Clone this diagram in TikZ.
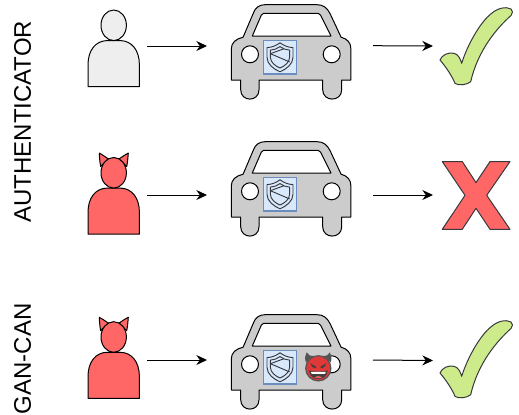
\documentclass[tikz,border=0pt]{standalone}
\usepackage{fontspec}
\setmainfont{Liberation Sans}
\usetikzlibrary{arrows.meta}

\definecolor{carfill}{RGB}{204,204,204}
\definecolor{userfill}{RGB}{238,238,238}
\definecolor{devilred}{RGB}{255,102,102}
\definecolor{facered}{RGB}{222,56,56}
\definecolor{hornline}{RGB}{85,85,85}
\definecolor{okgreen}{RGB}{205,235,139}
\definecolor{iconline}{RGB}{54,57,61}
\definecolor{boxfill}{RGB}{218,232,252}
\definecolor{boxline}{RGB}{108,142,191}

\tikzset{
  outline/.style={draw=black,line width=0.75pt,line join=round},
  flow/.style={-{Stealth[length=8pt,width=7.5pt]},line width=0.75pt},
  sidelabel/.style={rotate=90,font=\fontsize{18}{20}\selectfont},
  shieldbox/.style={draw=boxline,fill=boxfill,line width=1pt,minimum size=25pt,inner sep=0pt},
  % head and shoulders
  pics/bust/.style={code={
    \draw [outline,fill=#1] (-25.7,76.7) -- (-25.7,55) .. controls (-25.7,40) and (-18,31) .. (-7,30.6) -- (7,30.6) .. controls (18,31) and (25.7,40) .. (25.7,55) -- (25.7,76.7) -- cycle ;
    \draw [outline,fill=#1] (0,15.3) ellipse (12.7 and 15.3) ;
  }},
  pics/horns/.style={code={
    \draw [outline,fill=devilred] (-13,9) .. controls (-14,4) and (-14.2,0) .. (-14.4,-4.4) .. controls (-11,-2.5) and (-8,-0.5) .. (-5.4,1.4) -- cycle ;
    \draw [outline,fill=devilred] (13,9) .. controls (14,4) and (14.2,0) .. (14.6,-4.4) .. controls (11,-2.5) and (8,-0.5) .. (5.4,1.4) -- cycle ;
  }},
  pics/carfront/.style={code={
    \draw [outline,fill=carfill] (-59.8,75.3) -- (-50.4,75.3) -- (-50.4,85) .. controls (-50.4,97.5) and (-32.1,97.5) .. (-32.1,85) -- (-32.1,75.3) -- (31.6,75.3) -- (31.6,85) .. controls (31.6,97.5) and (50.6,97.5) .. (50.6,85) -- (50.6,75.3) -- (59.8,75.3) -- (59.8,44) .. controls (59.8,38) and (56,34) .. (50,32.5) -- (39,9) .. controls (36,3) and (32,0) .. (26,0) -- (-26,0) .. controls (-32,0) and (-36,3) .. (-38,9) -- (-48,32.5) .. controls (-55,34) and (-59.8,38) .. (-59.8,44) -- cycle ;
    \draw [outline,fill=white] (-38.8,31.3) -- (-29.8,10.5) .. controls (-29.2,9.2) and (-28.5,8.6) .. (-27.5,8.6) -- (27,8.6) .. controls (28,8.6) and (28.8,9.2) .. (29.5,10.5) -- (39.9,31.3) -- cycle ;
    \draw [outline,fill=white] (-41.1,49.6) circle (8.5) ;
    \draw [outline,fill=white] (40.6,49.6) circle (8.5) ;
    \node [shieldbox] (-box) at (-11.1,52.6) {};
    % shield icon
    \begin{scope}[shift={(-11.1,52.6)},iconline,line width=0.7pt,line join=round]
      \draw (0,-14.5) .. controls (4,-11.5) and (8,-10) .. (13,-9.7) -- (13,0) .. controls (13,7) and (6,12) .. (0,14.5) .. controls (-6,12) and (-13,7) .. (-13,0) -- (-13,-9.7) .. controls (-8,-10) and (-4,-11.5) .. (0,-14.5) -- cycle ;
      \draw (0,-10.7) .. controls (3,-8.5) and (6,-7.4) .. (9.6,-7.2) -- (9.6,0) .. controls (9.6,5) and (4.5,8.9) .. (0,10.7) .. controls (-4.5,8.9) and (-9.6,5) .. (-9.6,0) -- (-9.6,-7.2) .. controls (-6,-7.4) and (-3,-8.5) .. (0,-10.7) -- cycle ;
      \draw (-9.6,-3.6) -- (4,-8.6) ;
      \draw (-9.6,-3.6) -- (9.6,4.6) ;
    \end{scope}
  }},
  pics/devilface/.style={code={
    \fill [hornline] (-12.5,-6) .. controls (-13.5,-10) and (-13.5,-13) .. (-11.6,-16) .. controls (-10.5,-13) and (-8,-12) .. (-3,-12.5) -- cycle ;
    \fill [hornline] (12.5,-6) .. controls (13.5,-10) and (13.5,-13) .. (11.6,-16) .. controls (10.5,-13) and (8,-12) .. (3,-12.5) -- cycle ;
    \draw [draw=hornline,fill=facered,line width=0.9pt] (0,0) circle (12.6) ;
    \fill [black!75] (-8,-5) -- (-2,-1.5) -- (-3,0) .. controls (-5.5,0) and (-7,-2) .. (-8,-5) -- cycle ;
    \fill [black!75] (8,-5) -- (2,-1.5) -- (3,0) .. controls (5.5,0) and (7,-2) .. (8,-5) -- cycle ;
    \draw [fill=black!75,draw=black!75] (-9,2.5) .. controls (-4,4) and (4,4) .. (9,2.5) .. controls (8,9) and (3,10.5) .. (0,10.5) .. controls (-3,10.5) and (-8,9) .. (-9,2.5) -- cycle ;
    \fill [white] (-7.5,3.6) -- (7.5,3.6) -- (6.5,5.6) -- (-6.5,5.6) -- cycle ;
    \fill [facered!80!white] (-4,9.8) .. controls (-2,7) and (2,7) .. (4,9.8) -- cycle ;
  }},
  pics/tick/.style={code={
    \draw [draw=iconline,fill=okgreen,line width=0.75pt,line join=round] (80,60) .. controls (82,55) and (88,52) .. (94,53.3) .. controls (98,54) and (100.5,59) .. (101.7,63.3) .. controls (107,46) and (120,22) .. (131.7,13.3) .. controls (137,8.5) and (146,6) .. (151,9) .. controls (153,11) and (153,13) .. (151,15.5) .. controls (137,28) and (118,50) .. (110.7,81.7) .. controls (107,85) and (98,86) .. (95,83.3) .. controls (92,76) and (86,67) .. (80,60) -- cycle ;
  }},
  pics/cross/.style={code={
    \draw [draw=iconline,fill=devilred,line width=0.75pt,line join=round] (-33.7,-33.7) -- (-13.7,-33.7) -- (0,-12.7) -- (14,-33.7) -- (34,-33.7) -- (10.7,0) -- (34,34) -- (14,34) -- (0,13) -- (-13.7,34) -- (-33.7,34) -- (-11,0) -- cycle ;
  }}
}

\begin{document}
\begin{tikzpicture}[x=0.75pt,y=-0.75pt]
\useasboundingbox (0,0) rectangle (519,415);

%first row
\pic (user) at (113.7,10) {bust=userfill};
\pic (carA) at (291.1,4.7) {carfront};
\pic (okA) at (360,0) {tick};

%second row
\pic (hornsB) at (113.7,157.5) {horns};
\pic (devilB) at (113.7,157.5) {bust=devilred};
\pic (carB) at (291.1,141.7) {carfront};
\pic (noB) at (476,195.3) {cross};

%third row
\pic (hornsC) at (113.7,321.7) {horns};
\pic (devilC) at (113.7,321.7) {bust=devilred};
\pic (carC) at (291.1,314.7) {carfront};
\pic (faceC) at (318.3,368.3) {devilface};
\pic (okC) at (360,313) {tick};

%arrow ends
\coordinate (userout) at (147,46);
\coordinate (carAin) at (207,46);
\coordinate (carAout) at (373,45.7);
\coordinate (okAin) at (433,46);
\coordinate (devilBout) at (147,195);
\coordinate (carBin) at (207,195);
\coordinate (carBout) at (373,195);
\coordinate (noBin) at (433,195);
\coordinate (devilCout) at (147,360);
\coordinate (carCin) at (207,360);
\coordinate (carCout) at (373,360);
\coordinate (okCin) at (433,360.5);

\draw [flow] (userout) -- (carAin);
\draw [flow] (carAout) -- (okAin);
\draw [flow] (devilBout) -- (carBin);
\draw [flow] (carBout) -- (noBin);
\draw [flow] (devilCout) -- (carCin);
\draw [flow] (carCout) -- (okCin);

% Text Node
\node [sidelabel] (authlabel) at (22.5,121.7) {AUTHENTICATOR};
% Text Node
\node [sidelabel] (ganlabel) at (22.5,358.8) {GAN-CAN};

\end{tikzpicture}
\end{document}
